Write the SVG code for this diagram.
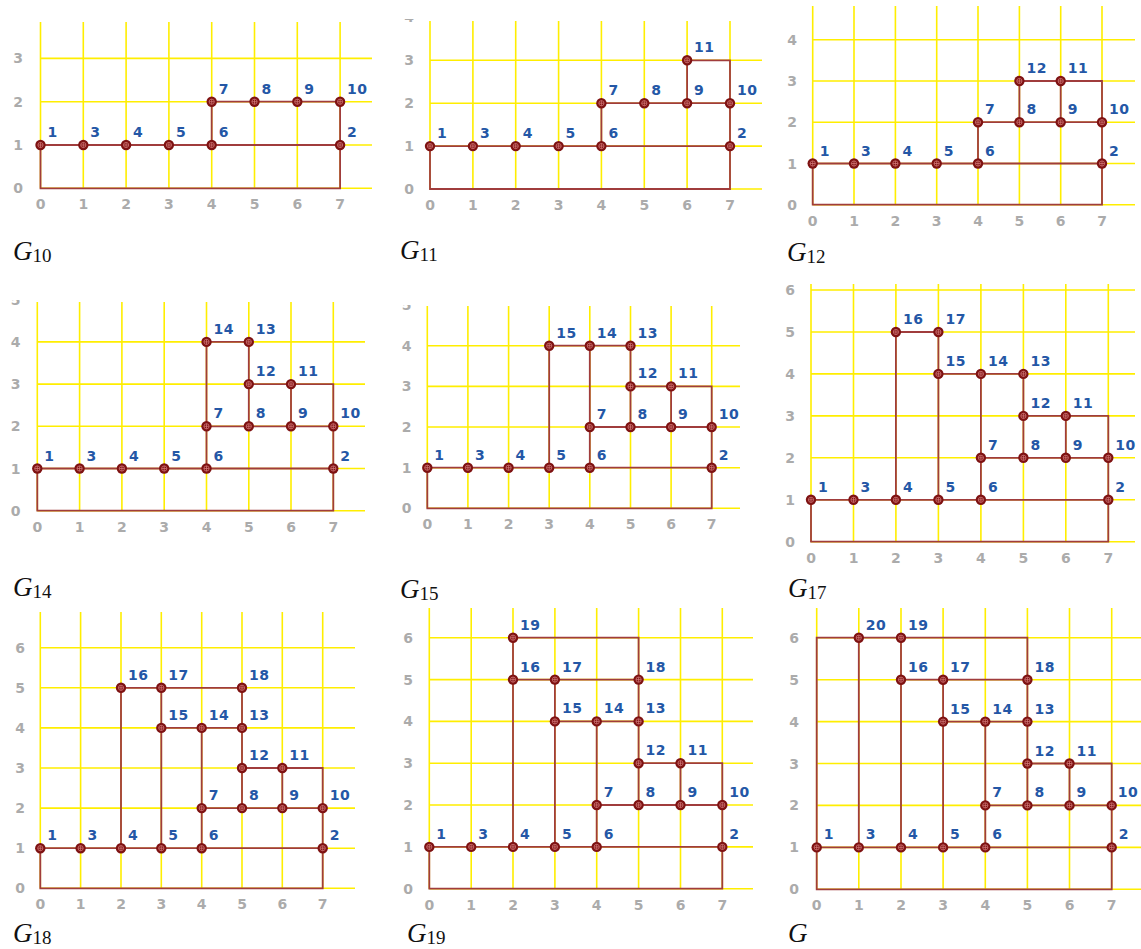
<svg xmlns="http://www.w3.org/2000/svg" xmlns:xlink="http://www.w3.org/1999/xlink" width="1141" height="949" viewBox="0 0 1141 949">
<style>
.gy{stroke:#ffee00;stroke-width:1.6;fill:none}
.ed{stroke:#a03c3c;stroke-width:1.8;fill:none}
.ax{font-family:'DejaVu Sans',sans-serif;font-size:14px;font-weight:bold;fill:#ababab;text-anchor:middle}
.lb text{font-family:'DejaVu Sans',sans-serif;font-size:14px;font-weight:bold;fill:#2457a6;letter-spacing:0.5px}
.cap{font-family:'Liberation Serif','Times New Roman',serif;font-style:italic;font-size:27px;fill:#111}
.sub{font-style:normal;font-size:19px}
</style>
<defs>
<g id="nd"><circle r="5.2" fill="#7e1212"/><circle r="2.6" fill="none" stroke="#d88080" stroke-width="0.7"/><path d="M-2.6 0H2.6M0-2.6V2.6" stroke="#d88080" stroke-width="0.7"/></g>
<clipPath id="c11"><rect x="380" y="19" width="60" height="10"/></clipPath>
<clipPath id="c14"><rect x="0" y="300" width="40" height="10"/></clipPath>
<clipPath id="c15"><rect x="390" y="305" width="40" height="10"/></clipPath>
</defs>
<rect width="1141" height="949" fill="#fff"/>

<!-- ===== G10 ===== -->
<g id="panel-G10">
<g id="G10-grid">
<path class="gy" d="M40.5 22V188.3M83.3 22V188.3M126.1 22V188.3M168.9 22V188.3M211.7 22V188.3M254.5 22V188.3M297.3 22V188.3M340.1 22V188.3M40.5 188.3H372M40.5 145H372M40.5 101.7H372M40.5 58.4H372"/>
<text class="ax" x="18 18 18 18" y="193.3 150 106.7 63.4">0123</text>
<text class="ax" x="40.5 83.3 126.1 168.9 211.7 254.5 297.3 340.1" y="209.3">01234567</text>
</g>
<g id="G10-edges"><path class="ed" d="M40.5 145V188.3H340.1V101.7H211.7V145M40.5 145H340.1"/></g>
<g class="lb">
<g id="G10-n1" transform="translate(40.5 145)"><use href="#nd"/><text x="7" y="-8">1</text></g>
<g id="G10-n3" transform="translate(83.3 145)"><use href="#nd"/><text x="7" y="-8">3</text></g>
<g id="G10-n4" transform="translate(126.1 145)"><use href="#nd"/><text x="7" y="-8">4</text></g>
<g id="G10-n5" transform="translate(168.9 145)"><use href="#nd"/><text x="7" y="-8">5</text></g>
<g id="G10-n6" transform="translate(211.7 145)"><use href="#nd"/><text x="7" y="-8">6</text></g>
<g id="G10-n2" transform="translate(340.1 145)"><use href="#nd"/><text x="7" y="-8">2</text></g>
<g id="G10-n7" transform="translate(211.7 101.7)"><use href="#nd"/><text x="7" y="-8">7</text></g>
<g id="G10-n8" transform="translate(254.5 101.7)"><use href="#nd"/><text x="7" y="-8">8</text></g>
<g id="G10-n9" transform="translate(297.3 101.7)"><use href="#nd"/><text x="7" y="-8">9</text></g>
<g id="G10-n10" transform="translate(340.1 101.7)"><use href="#nd"/><text x="7" y="-8">10</text></g>
</g>
<text class="cap" x="13" y="260">G<tspan class="sub" dy="2">10</tspan></text>
</g>

<!-- ===== G11 ===== -->
<g id="panel-G11">
<g id="G11-grid">
<path class="gy" d="M430 21V189M472.9 21V189M515.7 21V189M558.6 21V189M601.4 21V189M644.3 21V189M687.1 21V189M730 21V189M430 189H762M430 146.1H762M430 103.2H762M430 60.3H762"/>
<text class="ax" x="409 409 409 409" y="194 151.1 108.2 65.3">0123</text>
<text class="ax" x="409" y="22.4" clip-path="url(#c11)">4</text>
<text class="ax" x="430 472.9 515.7 558.6 601.4 644.3 687.1 730" y="210">01234567</text>
</g>
<g id="G11-edges"><path class="ed" d="M430 146.1V189H730V103.2H601.4V146.1M430 146.1H730M687.1 103.2V60.3H730V103.2"/></g>
<g class="lb">
<g id="G11-n1" transform="translate(430 146.1)"><use href="#nd"/><text x="7" y="-8">1</text></g>
<g id="G11-n3" transform="translate(472.9 146.1)"><use href="#nd"/><text x="7" y="-8">3</text></g>
<g id="G11-n4" transform="translate(515.7 146.1)"><use href="#nd"/><text x="7" y="-8">4</text></g>
<g id="G11-n5" transform="translate(558.6 146.1)"><use href="#nd"/><text x="7" y="-8">5</text></g>
<g id="G11-n6" transform="translate(601.4 146.1)"><use href="#nd"/><text x="7" y="-8">6</text></g>
<g id="G11-n2" transform="translate(730 146.1)"><use href="#nd"/><text x="7" y="-8">2</text></g>
<g id="G11-n7" transform="translate(601.4 103.2)"><use href="#nd"/><text x="7" y="-8">7</text></g>
<g id="G11-n8" transform="translate(644.3 103.2)"><use href="#nd"/><text x="7" y="-8">8</text></g>
<g id="G11-n9" transform="translate(687.1 103.2)"><use href="#nd"/><text x="7" y="-8">9</text></g>
<g id="G11-n10" transform="translate(730 103.2)"><use href="#nd"/><text x="7" y="-8">10</text></g>
<g id="G11-n11" transform="translate(687.1 60.3)"><use href="#nd"/><text x="7" y="-8">11</text></g>
</g>
<text class="cap" x="400" y="259">G<tspan class="sub" dy="2">11</tspan></text>
</g>

<!-- ===== G12 ===== -->
<g id="panel-G12">
<g id="G12-grid">
<path class="gy" d="M812.7 6V204.7M854 6V204.7M895.4 6V204.7M936.7 6V204.7M978 6V204.7M1019.4 6V204.7M1060.7 6V204.7M1102 6V204.7M812.7 204.7H1135M812.7 163.5H1135M812.7 122.2H1135M812.7 81H1135M812.7 39.7H1135"/>
<text class="ax" x="792 792 792 792 792" y="209.7 168.5 127.2 86 44.7">01234</text>
<text class="ax" x="812.7 854 895.4 936.7 978 1019.4 1060.7 1102" y="225.9">01234567</text>
</g>
<g id="G12-edges"><path class="ed" d="M812.7 163.5V204.7H1102V122.2H978V163.5M812.7 163.5H1102M1019.4 122.2V81H1102V122.2M1060.7 122.2V81"/></g>
<g class="lb">
<g id="G12-n1" transform="translate(812.7 163.5)"><use href="#nd"/><text x="7" y="-8">1</text></g>
<g id="G12-n3" transform="translate(854 163.5)"><use href="#nd"/><text x="7" y="-8">3</text></g>
<g id="G12-n4" transform="translate(895.4 163.5)"><use href="#nd"/><text x="7" y="-8">4</text></g>
<g id="G12-n5" transform="translate(936.7 163.5)"><use href="#nd"/><text x="7" y="-8">5</text></g>
<g id="G12-n6" transform="translate(978 163.5)"><use href="#nd"/><text x="7" y="-8">6</text></g>
<g id="G12-n2" transform="translate(1102 163.5)"><use href="#nd"/><text x="7" y="-8">2</text></g>
<g id="G12-n7" transform="translate(978 122.2)"><use href="#nd"/><text x="7" y="-8">7</text></g>
<g id="G12-n8" transform="translate(1019.4 122.2)"><use href="#nd"/><text x="7" y="-8">8</text></g>
<g id="G12-n9" transform="translate(1060.7 122.2)"><use href="#nd"/><text x="7" y="-8">9</text></g>
<g id="G12-n10" transform="translate(1102 122.2)"><use href="#nd"/><text x="7" y="-8">10</text></g>
<g id="G12-n11" transform="translate(1060.7 81)"><use href="#nd"/><text x="7" y="-8">11</text></g>
<g id="G12-n12" transform="translate(1019.4 81)"><use href="#nd"/><text x="7" y="-8">12</text></g>
</g>
<text class="cap" x="787" y="261">G<tspan class="sub" dy="2">12</tspan></text>
</g>

<!-- ===== G14 ===== -->
<g id="panel-G14">
<g id="G14-grid">
<path class="gy" d="M37.3 302V510.7M79.6 302V510.7M121.9 302V510.7M164.2 302V510.7M206.5 302V510.7M248.8 302V510.7M291 302V510.7M333.3 302V510.7M37.3 510.7H365M37.3 468.5H365M37.3 426.3H365M37.3 384.1H365M37.3 341.9H365"/>
<text class="ax" x="15.7 15.7 15.7 15.7 15.7" y="515.7 473.5 431.3 389.1 346.9">01234</text>
<text class="ax" x="15.7" y="304.7" clip-path="url(#c14)">5</text>
<text class="ax" x="37.3 79.6 121.9 164.2 206.5 248.8 291 333.3" y="531.7">01234567</text>
</g>
<g id="G14-edges"><path class="ed" d="M37.3 468.5V510.7H333.3V426.3H206.5V468.5M37.3 468.5H333.3M248.8 426.3V341.9H206.5V426.3M248.8 384.1H333.3V426.3M291 426.3V384.1"/></g>
<g class="lb">
<g id="G14-n1" transform="translate(37.3 468.5)"><use href="#nd"/><text x="7" y="-8">1</text></g>
<g id="G14-n3" transform="translate(79.6 468.5)"><use href="#nd"/><text x="7" y="-8">3</text></g>
<g id="G14-n4" transform="translate(121.9 468.5)"><use href="#nd"/><text x="7" y="-8">4</text></g>
<g id="G14-n5" transform="translate(164.2 468.5)"><use href="#nd"/><text x="7" y="-8">5</text></g>
<g id="G14-n6" transform="translate(206.5 468.5)"><use href="#nd"/><text x="7" y="-8">6</text></g>
<g id="G14-n2" transform="translate(333.3 468.5)"><use href="#nd"/><text x="7" y="-8">2</text></g>
<g id="G14-n7" transform="translate(206.5 426.3)"><use href="#nd"/><text x="7" y="-8">7</text></g>
<g id="G14-n8" transform="translate(248.8 426.3)"><use href="#nd"/><text x="7" y="-8">8</text></g>
<g id="G14-n9" transform="translate(291 426.3)"><use href="#nd"/><text x="7" y="-8">9</text></g>
<g id="G14-n10" transform="translate(333.3 426.3)"><use href="#nd"/><text x="7" y="-8">10</text></g>
<g id="G14-n11" transform="translate(291 384.1)"><use href="#nd"/><text x="7" y="-8">11</text></g>
<g id="G14-n12" transform="translate(248.8 384.1)"><use href="#nd"/><text x="7" y="-8">12</text></g>
<g id="G14-n13" transform="translate(248.8 341.9)"><use href="#nd"/><text x="7" y="-8">13</text></g>
<g id="G14-n14" transform="translate(206.5 341.9)"><use href="#nd"/><text x="7" y="-8">14</text></g>
</g>
<text class="cap" x="13" y="596">G<tspan class="sub" dy="2">14</tspan></text>
</g>

<!-- ===== G15 ===== -->
<g id="panel-G15">
<g id="G15-grid">
<path class="gy" d="M427.3 306V508.3M467.9 306V508.3M508.6 306V508.3M549.2 306V508.3M589.8 306V508.3M630.5 306V508.3M671.1 306V508.3M711.7 306V508.3M427.3 508.3H740M427.3 467.7H740M427.3 427H740M427.3 386.4H740M427.3 345.7H740"/>
<text class="ax" x="406.7 406.7 406.7 406.7 406.7" y="513.3 472.7 432 391.4 350.7">01234</text>
<text class="ax" x="406.7" y="310.1" clip-path="url(#c15)">5</text>
<text class="ax" x="427.3 467.9 508.6 549.2 589.8 630.5 671.1 711.7" y="528.8">01234567</text>
</g>
<g id="G15-edges"><path class="ed" d="M427.3 467.7V508.3H711.7V427H589.8V467.7M427.3 467.7H711.7M630.5 427V345.7H549.2V467.7M589.8 345.7V427M630.5 386.4H711.7V427M671.1 427V386.4"/></g>
<g class="lb">
<g id="G15-n1" transform="translate(427.3 467.7)"><use href="#nd"/><text x="7" y="-8">1</text></g>
<g id="G15-n3" transform="translate(467.9 467.7)"><use href="#nd"/><text x="7" y="-8">3</text></g>
<g id="G15-n4" transform="translate(508.6 467.7)"><use href="#nd"/><text x="7" y="-8">4</text></g>
<g id="G15-n5" transform="translate(549.2 467.7)"><use href="#nd"/><text x="7" y="-8">5</text></g>
<g id="G15-n6" transform="translate(589.8 467.7)"><use href="#nd"/><text x="7" y="-8">6</text></g>
<g id="G15-n2" transform="translate(711.7 467.7)"><use href="#nd"/><text x="7" y="-8">2</text></g>
<g id="G15-n7" transform="translate(589.8 427)"><use href="#nd"/><text x="7" y="-8">7</text></g>
<g id="G15-n8" transform="translate(630.5 427)"><use href="#nd"/><text x="7" y="-8">8</text></g>
<g id="G15-n9" transform="translate(671.1 427)"><use href="#nd"/><text x="7" y="-8">9</text></g>
<g id="G15-n10" transform="translate(711.7 427)"><use href="#nd"/><text x="7" y="-8">10</text></g>
<g id="G15-n11" transform="translate(671.1 386.4)"><use href="#nd"/><text x="7" y="-8">11</text></g>
<g id="G15-n12" transform="translate(630.5 386.4)"><use href="#nd"/><text x="7" y="-8">12</text></g>
<g id="G15-n13" transform="translate(630.5 345.7)"><use href="#nd"/><text x="7" y="-8">13</text></g>
<g id="G15-n14" transform="translate(589.8 345.7)"><use href="#nd"/><text x="7" y="-8">14</text></g>
<g id="G15-n15" transform="translate(549.2 345.7)"><use href="#nd"/><text x="7" y="-8">15</text></g>
</g>
<text class="cap" x="400" y="598">G<tspan class="sub" dy="2">15</tspan></text>
</g>

<!-- ===== G17 ===== -->
<g id="panel-G17">
<g id="G17-grid">
<path class="gy" d="M811 284V541.7M853.5 284V541.7M895.9 284V541.7M938.4 284V541.7M980.9 284V541.7M1023.4 284V541.7M1065.8 284V541.7M1108.3 284V541.7M811 541.7H1135M811 499.8H1135M811 457.8H1135M811 415.9H1135M811 373.9H1135M811 332H1135M811 290H1135"/>
<text class="ax" x="790 790 790 790 790 790 790" y="546.7 504.8 462.8 420.9 378.9 337 295">0123456</text>
<text class="ax" x="811 853.5 895.9 938.4 980.9 1023.4 1065.8 1108.3" y="562.7">01234567</text>
</g>
<g id="G17-edges"><path class="ed" d="M811 499.8V541.7H1108.3V457.8H980.9V499.8M811 499.8H1108.3M1023.4 457.8V373.9H938.4V499.8M980.9 373.9V457.8M1023.4 415.9H1108.3V457.8M1065.8 457.8V415.9M895.9 499.8V332H938.4V373.9"/></g>
<g class="lb">
<g id="G17-n1" transform="translate(811 499.8)"><use href="#nd"/><text x="7" y="-8">1</text></g>
<g id="G17-n3" transform="translate(853.5 499.8)"><use href="#nd"/><text x="7" y="-8">3</text></g>
<g id="G17-n4" transform="translate(895.9 499.8)"><use href="#nd"/><text x="7" y="-8">4</text></g>
<g id="G17-n5" transform="translate(938.4 499.8)"><use href="#nd"/><text x="7" y="-8">5</text></g>
<g id="G17-n6" transform="translate(980.9 499.8)"><use href="#nd"/><text x="7" y="-8">6</text></g>
<g id="G17-n2" transform="translate(1108.3 499.8)"><use href="#nd"/><text x="7" y="-8">2</text></g>
<g id="G17-n7" transform="translate(980.9 457.8)"><use href="#nd"/><text x="7" y="-8">7</text></g>
<g id="G17-n8" transform="translate(1023.4 457.8)"><use href="#nd"/><text x="7" y="-8">8</text></g>
<g id="G17-n9" transform="translate(1065.8 457.8)"><use href="#nd"/><text x="7" y="-8">9</text></g>
<g id="G17-n10" transform="translate(1108.3 457.8)"><use href="#nd"/><text x="7" y="-8">10</text></g>
<g id="G17-n11" transform="translate(1065.8 415.9)"><use href="#nd"/><text x="7" y="-8">11</text></g>
<g id="G17-n12" transform="translate(1023.4 415.9)"><use href="#nd"/><text x="7" y="-8">12</text></g>
<g id="G17-n13" transform="translate(1023.4 373.9)"><use href="#nd"/><text x="7" y="-8">13</text></g>
<g id="G17-n14" transform="translate(980.9 373.9)"><use href="#nd"/><text x="7" y="-8">14</text></g>
<g id="G17-n15" transform="translate(938.4 373.9)"><use href="#nd"/><text x="7" y="-8">15</text></g>
<g id="G17-n16" transform="translate(895.9 332)"><use href="#nd"/><text x="7" y="-8">16</text></g>
<g id="G17-n17" transform="translate(938.4 332)"><use href="#nd"/><text x="7" y="-8">17</text></g>
</g>
<text class="cap" x="788" y="597">G<tspan class="sub" dy="2">17</tspan></text>
</g>

<!-- ===== G18 ===== -->
<g id="panel-G18">
<g id="G18-grid">
<path class="gy" d="M40.3 612V888.3M80.6 612V888.3M121 612V888.3M161.3 612V888.3M201.7 612V888.3M242 612V888.3M282.3 612V888.3M322.7 612V888.3M40.3 888.3H355M40.3 848.2H355M40.3 808.1H355M40.3 768H355M40.3 727.9H355M40.3 687.8H355M40.3 647.7H355"/>
<text class="ax" x="20 20 20 20 20 20 20" y="893.3 853.2 813.1 773 732.9 692.8 652.7">0123456</text>
<text class="ax" x="40.3 80.6 121 161.3 201.7 242 282.3 322.7" y="909.3">01234567</text>
</g>
<g id="G18-edges"><path class="ed" d="M40.3 848.2V888.3H322.7V808.1H201.7V848.2M40.3 848.2H322.7M242 808.1V687.8H121V848.2M161.3 848.2V687.8M161.3 727.9H242M201.7 727.9V808.1M242 768H322.7V808.1M282.3 808.1V768"/></g>
<g class="lb">
<g id="G18-n1" transform="translate(40.3 848.2)"><use href="#nd"/><text x="7" y="-8">1</text></g>
<g id="G18-n3" transform="translate(80.6 848.2)"><use href="#nd"/><text x="7" y="-8">3</text></g>
<g id="G18-n4" transform="translate(121 848.2)"><use href="#nd"/><text x="7" y="-8">4</text></g>
<g id="G18-n5" transform="translate(161.3 848.2)"><use href="#nd"/><text x="7" y="-8">5</text></g>
<g id="G18-n6" transform="translate(201.7 848.2)"><use href="#nd"/><text x="7" y="-8">6</text></g>
<g id="G18-n2" transform="translate(322.7 848.2)"><use href="#nd"/><text x="7" y="-8">2</text></g>
<g id="G18-n7" transform="translate(201.7 808.1)"><use href="#nd"/><text x="7" y="-8">7</text></g>
<g id="G18-n8" transform="translate(242 808.1)"><use href="#nd"/><text x="7" y="-8">8</text></g>
<g id="G18-n9" transform="translate(282.3 808.1)"><use href="#nd"/><text x="7" y="-8">9</text></g>
<g id="G18-n10" transform="translate(322.7 808.1)"><use href="#nd"/><text x="7" y="-8">10</text></g>
<g id="G18-n11" transform="translate(282.3 768)"><use href="#nd"/><text x="7" y="-8">11</text></g>
<g id="G18-n12" transform="translate(242 768)"><use href="#nd"/><text x="7" y="-8">12</text></g>
<g id="G18-n13" transform="translate(242 727.9)"><use href="#nd"/><text x="7" y="-8">13</text></g>
<g id="G18-n14" transform="translate(201.7 727.9)"><use href="#nd"/><text x="7" y="-8">14</text></g>
<g id="G18-n15" transform="translate(161.3 727.9)"><use href="#nd"/><text x="7" y="-8">15</text></g>
<g id="G18-n16" transform="translate(121 687.8)"><use href="#nd"/><text x="7" y="-8">16</text></g>
<g id="G18-n17" transform="translate(161.3 687.8)"><use href="#nd"/><text x="7" y="-8">17</text></g>
<g id="G18-n18" transform="translate(242 687.8)"><use href="#nd"/><text x="7" y="-8">18</text></g>
</g>
<text class="cap" x="13" y="942">G<tspan class="sub" dy="2">18</tspan></text>
</g>

<!-- ===== G19 ===== -->
<g id="panel-G19">
<g id="G19-grid">
<path class="gy" d="M429.3 608V888.7M471.2 608V888.7M513 608V888.7M554.9 608V888.7M596.7 608V888.7M638.6 608V888.7M680.5 608V888.7M722.3 608V888.7M429.3 888.7H753M429.3 846.9H753M429.3 805H753M429.3 763.2H753M429.3 721.4H753M429.3 679.6H753M429.3 637.7H753"/>
<text class="ax" x="408 408 408 408 408 408 408" y="893.7 851.9 810 768.2 726.4 684.6 642.7">0123456</text>
<text class="ax" x="429.3 471.2 513 554.9 596.7 638.6 680.5 722.3" y="909.7">01234567</text>
</g>
<g id="G19-edges"><path class="ed" d="M429.3 846.9V888.7H722.3V805H596.7V846.9M429.3 846.9H722.3M638.6 805V637.7H513V846.9M554.9 846.9V679.6M513 679.6H638.6M554.9 721.4H638.6M596.7 721.4V805M638.6 763.2H722.3V805M680.5 805V763.2"/></g>
<g class="lb">
<g id="G19-n1" transform="translate(429.3 846.9)"><use href="#nd"/><text x="7" y="-8">1</text></g>
<g id="G19-n3" transform="translate(471.2 846.9)"><use href="#nd"/><text x="7" y="-8">3</text></g>
<g id="G19-n4" transform="translate(513 846.9)"><use href="#nd"/><text x="7" y="-8">4</text></g>
<g id="G19-n5" transform="translate(554.9 846.9)"><use href="#nd"/><text x="7" y="-8">5</text></g>
<g id="G19-n6" transform="translate(596.7 846.9)"><use href="#nd"/><text x="7" y="-8">6</text></g>
<g id="G19-n2" transform="translate(722.3 846.9)"><use href="#nd"/><text x="7" y="-8">2</text></g>
<g id="G19-n7" transform="translate(596.7 805)"><use href="#nd"/><text x="7" y="-8">7</text></g>
<g id="G19-n8" transform="translate(638.6 805)"><use href="#nd"/><text x="7" y="-8">8</text></g>
<g id="G19-n9" transform="translate(680.5 805)"><use href="#nd"/><text x="7" y="-8">9</text></g>
<g id="G19-n10" transform="translate(722.3 805)"><use href="#nd"/><text x="7" y="-8">10</text></g>
<g id="G19-n11" transform="translate(680.5 763.2)"><use href="#nd"/><text x="7" y="-8">11</text></g>
<g id="G19-n12" transform="translate(638.6 763.2)"><use href="#nd"/><text x="7" y="-8">12</text></g>
<g id="G19-n13" transform="translate(638.6 721.4)"><use href="#nd"/><text x="7" y="-8">13</text></g>
<g id="G19-n14" transform="translate(596.7 721.4)"><use href="#nd"/><text x="7" y="-8">14</text></g>
<g id="G19-n15" transform="translate(554.9 721.4)"><use href="#nd"/><text x="7" y="-8">15</text></g>
<g id="G19-n16" transform="translate(513 679.6)"><use href="#nd"/><text x="7" y="-8">16</text></g>
<g id="G19-n17" transform="translate(554.9 679.6)"><use href="#nd"/><text x="7" y="-8">17</text></g>
<g id="G19-n18" transform="translate(638.6 679.6)"><use href="#nd"/><text x="7" y="-8">18</text></g>
<g id="G19-n19" transform="translate(513 637.7)"><use href="#nd"/><text x="7" y="-8">19</text></g>
</g>
<text class="cap" x="407" y="942">G<tspan class="sub" dy="2">19</tspan></text>
</g>

<!-- ===== G ===== -->
<g id="panel-G">
<g id="G-grid">
<path class="gy" d="M816.7 608V889.3M858.8 608V889.3M901 608V889.3M943.1 608V889.3M985.3 608V889.3M1027.4 608V889.3M1069.5 608V889.3M1111.7 608V889.3M816.7 889.3H1141M816.7 847.4H1141M816.7 805.4H1141M816.7 763.5H1141M816.7 721.6H1141M816.7 679.7H1141M816.7 637.7H1141"/>
<text class="ax" x="794 794 794 794 794 794 794" y="894.3 852.4 810.4 768.5 726.6 684.7 642.7">0123456</text>
<text class="ax" x="816.7 858.8 901 943.1 985.3 1027.4 1069.5 1111.7" y="910.3">01234567</text>
</g>
<g id="G-edges"><path class="ed" d="M816.7 847.4V889.3H1111.7V805.4H985.3V847.4M816.7 847.4H1111.7M1027.4 805.4V637.7H816.7V847.4M858.8 847.4V637.7M901 847.4V637.7M943.1 847.4V679.7M901 679.7H1027.4M943.1 721.6H1027.4M985.3 721.6V805.4M1027.4 763.5H1111.7V805.4M1069.5 805.4V763.5"/></g>
<g class="lb">
<g id="G-n1" transform="translate(816.7 847.4)"><use href="#nd"/><text x="7" y="-8">1</text></g>
<g id="G-n3" transform="translate(858.8 847.4)"><use href="#nd"/><text x="7" y="-8">3</text></g>
<g id="G-n4" transform="translate(901 847.4)"><use href="#nd"/><text x="7" y="-8">4</text></g>
<g id="G-n5" transform="translate(943.1 847.4)"><use href="#nd"/><text x="7" y="-8">5</text></g>
<g id="G-n6" transform="translate(985.3 847.4)"><use href="#nd"/><text x="7" y="-8">6</text></g>
<g id="G-n2" transform="translate(1111.7 847.4)"><use href="#nd"/><text x="7" y="-8">2</text></g>
<g id="G-n7" transform="translate(985.3 805.4)"><use href="#nd"/><text x="7" y="-8">7</text></g>
<g id="G-n8" transform="translate(1027.4 805.4)"><use href="#nd"/><text x="7" y="-8">8</text></g>
<g id="G-n9" transform="translate(1069.5 805.4)"><use href="#nd"/><text x="7" y="-8">9</text></g>
<g id="G-n10" transform="translate(1111.7 805.4)"><use href="#nd"/><text x="6" y="-8">10</text></g>
<g id="G-n11" transform="translate(1069.5 763.5)"><use href="#nd"/><text x="7" y="-8">11</text></g>
<g id="G-n12" transform="translate(1027.4 763.5)"><use href="#nd"/><text x="7" y="-8">12</text></g>
<g id="G-n13" transform="translate(1027.4 721.6)"><use href="#nd"/><text x="7" y="-8">13</text></g>
<g id="G-n14" transform="translate(985.3 721.6)"><use href="#nd"/><text x="7" y="-8">14</text></g>
<g id="G-n15" transform="translate(943.1 721.6)"><use href="#nd"/><text x="7" y="-8">15</text></g>
<g id="G-n16" transform="translate(901 679.7)"><use href="#nd"/><text x="7" y="-8">16</text></g>
<g id="G-n17" transform="translate(943.1 679.7)"><use href="#nd"/><text x="7" y="-8">17</text></g>
<g id="G-n18" transform="translate(1027.4 679.7)"><use href="#nd"/><text x="7" y="-8">18</text></g>
<g id="G-n19" transform="translate(901 637.7)"><use href="#nd"/><text x="7" y="-8">19</text></g>
<g id="G-n20" transform="translate(858.8 637.7)"><use href="#nd"/><text x="7" y="-8">20</text></g>
</g>
<text class="cap" x="788" y="942">G</text>
</g>
</svg>
